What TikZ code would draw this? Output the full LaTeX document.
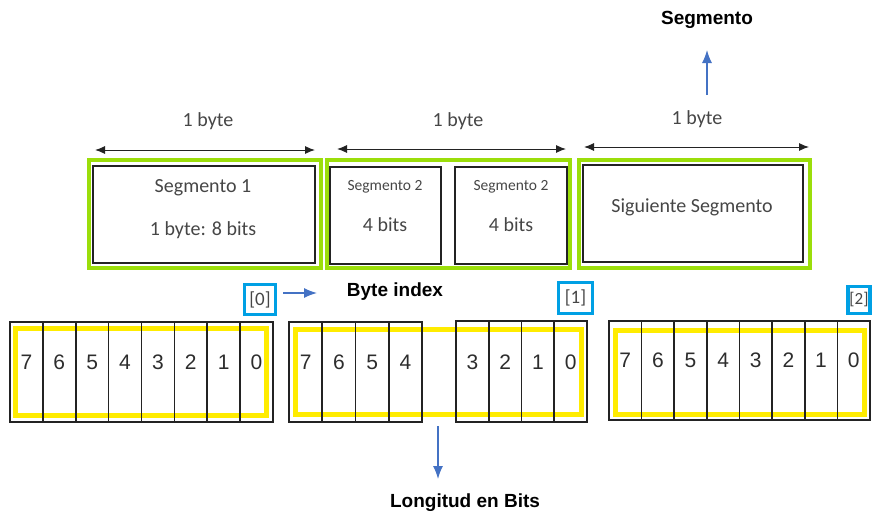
\documentclass[tikz,border=0pt]{standalone}
\usepackage{fontspec}
\setmainfont{Carlito}
\newfontfamily\arialfont{Liberation Sans}
\usetikzlibrary{arrows.meta}

\definecolor{segGreen}{RGB}{155,222,10}
\definecolor{bitYellow}{RGB}{255,236,0}
\definecolor{idxBlue}{RGB}{0,160,228}
\definecolor{arrBlue}{RGB}{68,114,196}
\definecolor{txtGray}{RGB}{70,70,70}
\definecolor{digitGray}{RGB}{45,45,45}
\definecolor{lineDark}{RGB}{35,35,35}

\tikzset{
  greenframe/.style={draw=segGreen, line width=4.5pt, inner sep=0pt, outer sep=0pt},
  segbox/.style={draw=lineDark, line width=1.6pt, inner sep=0pt, outer sep=0pt},
  segtext/.style={font=\fontsize{20}{24}\selectfont, text=txtGray, inner sep=0pt},
  segsmall/.style={font=\fontsize{15.5}{18}\selectfont, text=txtGray, inner sep=0pt},
  bitcell/.style={draw=lineDark, line width=1.7pt, inner sep=0pt, outer sep=0pt},
  yellowframe/.style={draw=bitYellow, line width=5pt, inner sep=0pt, outer sep=0pt},
  digit/.style={font=\arialfont\fontsize{21}{24}\selectfont, text=digitGray, inner sep=0pt},
  idxbox/.style={draw=idxBlue, line width=3.2pt, inner sep=0pt, outer sep=0pt,
    font=\fontsize{19}{22}\selectfont, text=txtGray},
  boldlabel/.style={font=\arialfont\bfseries\fontsize{19}{22}\selectfont, inner sep=0pt},
  spanarrow/.style={{Latex[length=10pt,width=8pt]}-{Latex[length=10pt,width=8pt]}, draw=lineDark, line width=1pt},
  bluearrow/.style={-{Latex[length=13pt,width=10pt]}, draw=arrBlue, line width=1.3pt},
}

\begin{document}
\begin{tikzpicture}[x=1pt,y=-1pt]
\useasboundingbox (0,0) rectangle (872,514);
\clip (0,0) rectangle (872,514);

% ---------- title with upward arrow ----------
\node[boldlabel] (title) at (707,20) {Segmento};
\coordinate (upfoot) at (707,95);
\coordinate (uptip) at (707,50);
\draw[bluearrow] (upfoot) -- (uptip);

% ---------- byte spans ----------
\coordinate (s1l) at (95,150);  \coordinate (s1r) at (315,150);
\coordinate (s2l) at (337,149); \coordinate (s2r) at (566,149);
\coordinate (s3l) at (584,147); \coordinate (s3r) at (809,147);
\draw[spanarrow] (s1l) -- (s1r);
\draw[spanarrow] (s2l) -- (s2r);
\draw[spanarrow] (s3l) -- (s3r);
\node[segtext] (byte1) at (208,121) {1 byte};
\node[segtext] (byte2) at (458,121) {1 byte};
\node[segtext] (byte3) at (697,119) {1 byte};

% ---------- segments ----------
\node[greenframe, minimum width=232pt, minimum height=108pt] (g1) at (205,214) {};
\node[greenframe, minimum width=243pt, minimum height=108pt] (g2) at (448.5,214) {};
\node[greenframe, minimum width=231pt, minimum height=108pt] (g3) at (694.5,214) {};

\node[segbox, minimum width=222pt, minimum height=97pt] (seg1) at (204,214.5) {};
\node[segbox, minimum width=111pt, minimum height=97pt] (seg2a) at (385.5,215.5) {};
\node[segbox, minimum width=112pt, minimum height=97pt] (seg2b) at (511,215.5) {};
\node[segbox, minimum width=220pt, minimum height=97pt] (seg3) at (693,213.5) {};

\node[segtext] (t1a) at (203,188) {Segmento 1};
\node[segtext] (t1b) at (203,230) {1 byte: 8 bits};
\node[segsmall] (t2a) at (385,187) {Segmento 2};
\node[segtext] (t2b) at (385,225) {4 bits};
\node[segsmall] (t2c) at (511,187) {Segmento 2};
\node[segtext] (t2d) at (511,225) {4 bits};
\node[segtext] (t3) at (692,207) {Siguiente Segmento};

% ---------- byte index markers ----------
\node[idxbox, minimum width=31pt, minimum height=30pt] (i0) at (260,299.5) {[0]};
\node[idxbox, minimum width=34pt, minimum height=31pt] (i1) at (575.5,298) {[1]};
\node[idxbox, minimum width=22pt, minimum height=27pt, font=\fontsize{17}{20}\selectfont] (i2) at (859,300) {[2]};
\node[boldlabel] (bidx) at (395,292) {Byte index};
\coordinate (bxfoot) at (283,293);
\coordinate (bxtip) at (317,293);
\draw[bluearrow] (bxfoot) -- (bxtip);

% ---------- yellow bit frames ----------
\node[yellowframe, minimum width=251pt, minimum height=87pt] (y0) at (141,372) {};
\node[yellowframe, minimum width=286pt, minimum height=85pt] (y1) at (438.5,372) {};
\node[yellowframe, minimum width=249pt, minimum height=84pt] (y2) at (740,372.5) {};

% ---------- bit cells: byte 0 ----------
\foreach \d [count=\i from 0] in {7,6,5,4,3,2,1,0} {
  \node[bitcell, minimum width=32.875pt, minimum height=100pt] (p\d) at ({10+32.875*(\i+0.5)},372) {};
  \node[digit] at ([yshift=10pt]p\d.center) {\d};
}
% ---------- bit cells: byte 1 (split in two nibbles) ----------
\foreach \d [count=\i from 0] in {7,6,5,4} {
  \node[bitcell, minimum width=33.25pt, minimum height=100pt] (q\d) at ({289+33.25*(\i+0.5)},372) {};
  \node[digit] at ([yshift=10pt]q\d.center) {\d};
}
\foreach \d [count=\i from 0] in {3,2,1,0} {
  \node[bitcell, minimum width=32.75pt, minimum height=101pt] (q\d) at ({456+32.75*(\i+0.5)},371.5) {};
  \node[digit] at ([yshift=9.5pt]q\d.center) {\d};
}
% ---------- bit cells: byte 2 ----------
\foreach \d [count=\i from 0] in {7,6,5,4,3,2,1,0} {
  \node[bitcell, minimum width=32.625pt, minimum height=99pt] (r\d) at ({609+32.625*(\i+0.5)},370.5) {};
  \node[digit] at ([yshift=10.5pt]r\d.center) {\d};
}

% ---------- bit length ----------
\coordinate (dnfoot) at (438,426);
\coordinate (dntip) at (438,479);
\draw[bluearrow] (dnfoot) -- (dntip);
\node[boldlabel] (blen) at (465,503) {Longitud en Bits};
\end{tikzpicture}
\end{document}
